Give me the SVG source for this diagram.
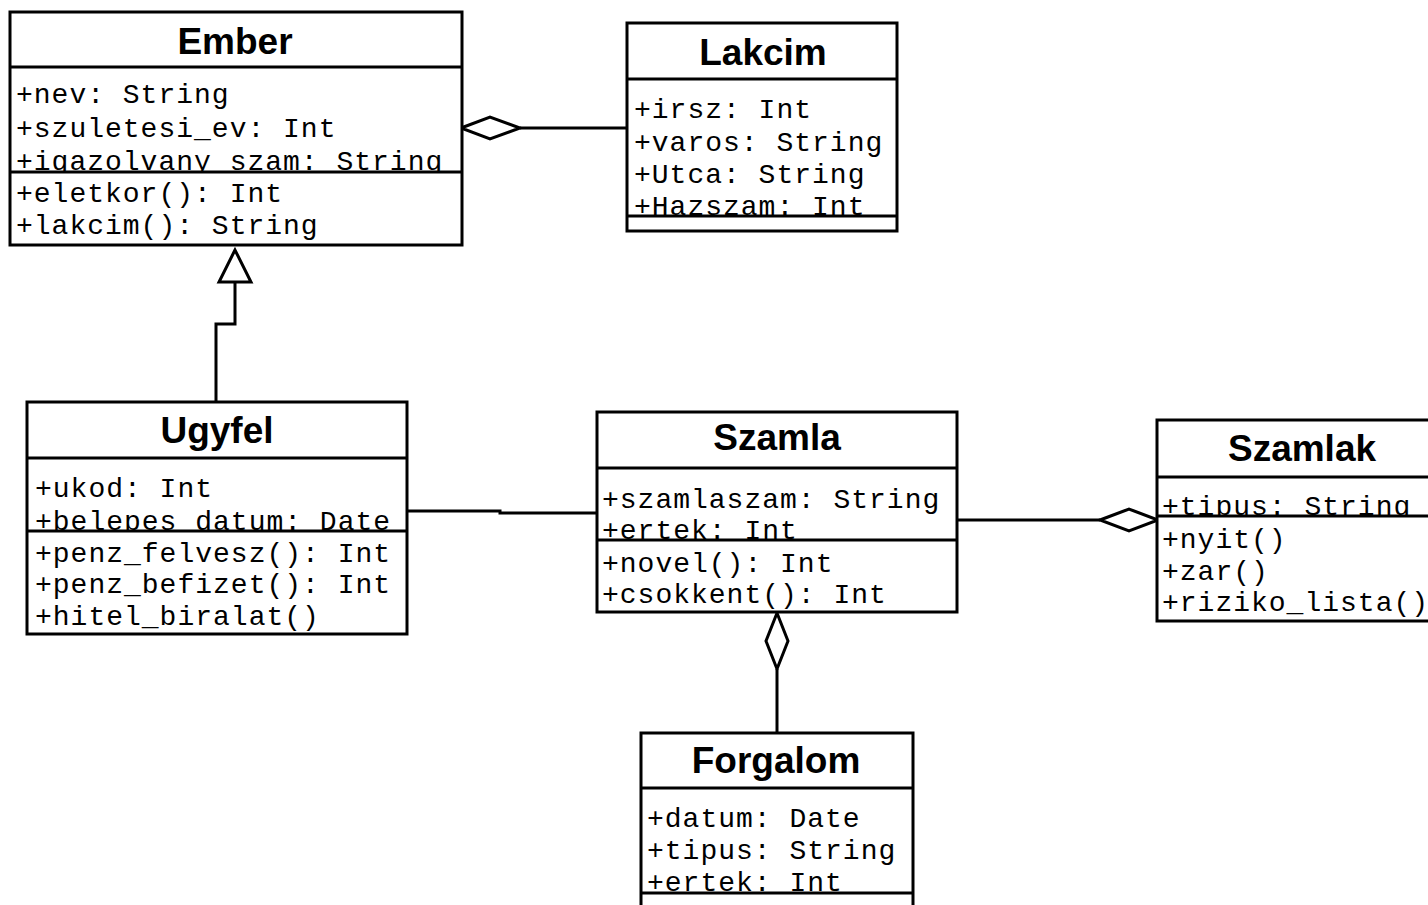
<svg xmlns="http://www.w3.org/2000/svg" width="1428" height="905" viewBox="0 0 1428 905">
  <style>
    .box { fill: #fff; stroke: #000; stroke-width: 3; }
    .sep { stroke: #000; stroke-width: 3; fill: none; }
    .title { font-family: "Liberation Sans", Arial, sans-serif; font-weight: bold; font-size: 37px; text-anchor: middle; fill: #000; }
    .mem { font-family: "Liberation Mono", "Courier New", monospace; font-size: 28px; letter-spacing: 1px; fill: #000; white-space: pre; }
    .edge { stroke: #000; stroke-width: 3; fill: none; }
    .head { stroke: #000; stroke-width: 3; fill: #fff; stroke-linejoin: miter; }
  </style>
  <defs>
    <clipPath id="clipEmber"><rect x="10" y="67" width="452" height="105"/></clipPath>
    <clipPath id="clipLakcim"><rect x="627" y="79" width="270" height="137"/></clipPath>
    <clipPath id="clipUgyfel"><rect x="27" y="458" width="380" height="73"/></clipPath>
    <clipPath id="clipSzamla"><rect x="597" y="468" width="360" height="72"/></clipPath>
    <clipPath id="clipSzamlak"><rect x="1157" y="477" width="280" height="39"/></clipPath>
    <clipPath id="clipForgalom"><rect x="641" y="788" width="272" height="105"/></clipPath>
  </defs>

  <rect width="1428" height="905" fill="#fff"/>

  <!-- connectors -->
  <g id="connectors">
    <!-- Lakcim aggregated into Ember -->
    <line class="edge" x1="520" y1="128" x2="627" y2="128"/>
    <polygon class="head" points="461,128 490,117 520,128 490,139"/>
    <!-- Ugyfel generalizes Ember -->
    <polyline class="edge" points="216,403 216,324 235,324 235,282"/>
    <polygon class="head" points="235,250 219,282 251,282"/>
    <!-- Ugyfel to Szamla association -->
    <polyline class="edge" points="407,511 500,511 500,513 597,513"/>
    <!-- Szamla aggregated into Szamlak -->
    <line class="edge" x1="957" y1="520" x2="1100" y2="520"/>
    <polygon class="head" points="1100,520 1129,509 1158,520 1129,531"/>
    <!-- Forgalom aggregated into Szamla -->
    <line class="edge" x1="777" y1="669" x2="777" y2="733"/>
    <polygon class="head" points="777,613 788,641 777,669 766,641"/>
  </g>

  <g id="Ember">
    <rect class="box" x="10" y="12" width="452" height="233"/>
    <text class="title" x="235" y="54">Ember</text>
    <g clip-path="url(#clipEmber)">
      <text class="mem" x="16" y="103">+nev: String</text>
      <text class="mem" x="16" y="137">+szuletesi_ev: Int</text>
      <text class="mem" x="16" y="170">+igazolvany_szam: String</text>
    </g>
    <text class="mem" x="16" y="202">+eletkor(): Int</text>
    <text class="mem" x="16" y="234">+lakcim(): String</text>
    <line class="sep" x1="10" y1="67" x2="462" y2="67"/>
    <line class="sep" x1="10" y1="172" x2="462" y2="172"/>
  </g>

  <g id="Lakcim">
    <rect class="box" x="627" y="23" width="270" height="208"/>
    <text class="title" x="763" y="65">Lakcim</text>
    <g clip-path="url(#clipLakcim)">
      <text class="mem" x="634" y="118">+irsz: Int</text>
      <text class="mem" x="634" y="151">+varos: String</text>
      <text class="mem" x="634" y="183">+Utca: String</text>
      <text class="mem" x="634" y="215">+Hazszam: Int</text>
    </g>
    <line class="sep" x1="627" y1="79" x2="897" y2="79"/>
    <line class="sep" x1="627" y1="216" x2="897" y2="216"/>
  </g>

  <g id="Ugyfel">
    <rect class="box" x="27" y="402" width="380" height="232"/>
    <text class="title" x="217" y="443">Ugyfel</text>
    <g clip-path="url(#clipUgyfel)">
      <text class="mem" x="35" y="497">+ukod: Int</text>
      <text class="mem" x="35" y="530">+belepes_datum: Date</text>
    </g>
    <text class="mem" x="35" y="562">+penz_felvesz(): Int</text>
    <text class="mem" x="35" y="593">+penz_befizet(): Int</text>
    <text class="mem" x="35" y="625">+hitel_biralat()</text>
    <line class="sep" x1="27" y1="458" x2="407" y2="458"/>
    <line class="sep" x1="27" y1="531" x2="407" y2="531"/>
  </g>

  <g id="Szamla">
    <rect class="box" x="597" y="412" width="360" height="200"/>
    <text class="title" x="777" y="450">Szamla</text>
    <g clip-path="url(#clipSzamla)">
      <text class="mem" x="602" y="508">+szamlaszam: String</text>
      <text class="mem" x="602" y="539">+ertek: Int</text>
    </g>
    <text class="mem" x="602" y="572">+novel(): Int</text>
    <text class="mem" x="602" y="603">+csokkent(): Int</text>
    <line class="sep" x1="597" y1="468" x2="957" y2="468"/>
    <line class="sep" x1="597" y1="540" x2="957" y2="540"/>
  </g>

  <g id="Szamlak">
    <rect class="box" x="1157" y="420" width="290" height="201"/>
    <text class="title" x="1302" y="461">Szamlak</text>
    <g clip-path="url(#clipSzamlak)">
      <text class="mem" x="1162" y="515">+tipus: String</text>
    </g>
    <text class="mem" x="1162" y="548">+nyit()</text>
    <text class="mem" x="1162" y="580">+zar()</text>
    <text class="mem" x="1162" y="611">+riziko_lista()</text>
    <line class="sep" x1="1157" y1="477" x2="1447" y2="477"/>
    <line class="sep" x1="1157" y1="516" x2="1447" y2="516"/>
  </g>

  <g id="Forgalom">
    <rect class="box" x="641" y="733" width="272" height="190"/>
    <text class="title" x="776" y="773">Forgalom</text>
    <g clip-path="url(#clipForgalom)">
      <text class="mem" x="647" y="827">+datum: Date</text>
      <text class="mem" x="647" y="859">+tipus: String</text>
      <text class="mem" x="647" y="891">+ertek: Int</text>
    </g>
    <line class="sep" x1="641" y1="788" x2="913" y2="788"/>
    <line class="sep" x1="641" y1="893" x2="913" y2="893"/>
  </g>
</svg>
